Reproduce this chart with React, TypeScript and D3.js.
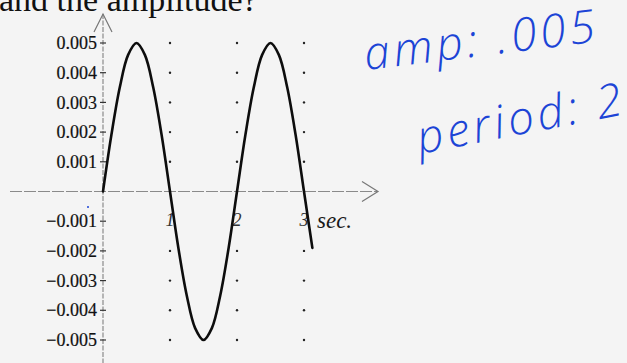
import React from "react";
import * as d3 from "d3";

// Displacement readings (m) against time (s), one every eighth of a second
const times = [0, 0.125, 0.25, 0.375, 0.5, 0.625, 0.75, 0.875, 1, 1.125, 1.25, 1.375, 1.5, 1.625, 1.75, 1.875, 2, 2.125, 2.25, 2.375, 2.5, 2.625, 2.75, 2.875, 3, 3.125];
const displacement = [0, 0.0019, 0.0035, 0.0046, 0.005, 0.0046, 0.0035, 0.0019, 0, -0.0019, -0.0035, -0.0046, -0.005, -0.0046, -0.0035, -0.0019, 0, 0.0019, 0.0035, 0.0046, 0.005, 0.0046, 0.0035, 0.0019, 0, -0.0019];

const yTicks = [0.005, 0.004, 0.003, 0.002, 0.001, -0.001, -0.002, -0.003, -0.004, -0.005];
const xTicks = [1, 2, 3];
const yTickLabels = ["0.005", "0.004", "0.003", "0.002", "0.001", "\u22120.001", "\u22120.002", "\u22120.003", "\u22120.004", "\u22120.005"];

const question = "and the amplitude?";
const noteAmp = "amp: .005";
const notePeriod = "period: 2";

const W = 627;
const H = 363;

export default function App() {
  const x = d3.scaleLinear().domain([0, 3]).range([103, 304]);
  const y = d3.scaleLinear().domain([-0.005, 0.005]).range([340, 43]);

  const pts: [number, number][] = times.map((t, i) => [t, displacement[i]]);
  const line = d3
    .line<[number, number]>()
    .x((d) => x(d[0]))
    .y((d) => y(d[1]))
    .curve(d3.curveCatmullRom.alpha(0.5));

  const x0 = x(0);
  const y0 = y(0);
  const serif = "'Liberation Serif', 'Times New Roman', serif";
  const hand = "'Open Sans', 'DejaVu Sans', sans-serif";
  const blue = "#1c44d6";

  return (
    <svg width={W} height={H} style={{ position: "absolute", left: 0, top: 0, display: "block" }}>
      <rect x={0} y={0} width={W} height={H} fill="#f4f4f4" />

      <text x={-1} y={11} fontFamily={serif} fontSize={34} fill="#111">
        {question}
      </text>

      {/* axes */}
      <line x1={x0} x2={x0} y1={14} y2={H} stroke="#8a8a8a" strokeWidth={1.2} strokeDasharray="5 1.5" />
      <polyline points={`${x0 - 9},32 ${x0},14 ${x0 + 9},32`} fill="none" stroke="#777" strokeWidth={1.2} />
      <line x1={10} x2={378} y1={y0} y2={y0} stroke="#8a8a8a" strokeWidth={1.2} strokeDasharray="12 2" />
      <polyline points={`362,${y0 - 10} 378,${y0} 362,${y0 + 10}`} fill="none" stroke="#777" strokeWidth={1.2} />

      {/* y ticks and labels */}
      {yTicks.map((v, i) => (
        <g key={v}>
          <line x1={x0 - 3} x2={x0 + 3} y1={y(v)} y2={y(v)} stroke="#333" strokeWidth={1.2} />
          <text
            x={x0 - 6}
            y={y(v)}
            dy="0.34em"
            textAnchor="end"
            fontFamily={serif}
            fontSize={18}
            fill="#111"
            stroke="#111"
            strokeWidth={0.2}
          >
            {yTickLabels[i]}
          </text>
        </g>
      ))}

      {/* dotted guides at whole seconds */}
      {xTicks.map((t) =>
        yTicks
          .filter((v) => v !== -0.001)
          .map((v) => <circle key={`${t}-${v}`} cx={x(t)} cy={y(v)} r={1.2} fill="#222" />)
      )}

      {xTicks.map((t) => (
        <text key={t} x={x(t)} y={y(-0.001) + 5} textAnchor="middle" fontFamily={serif} fontStyle="italic" fontSize={18} fill="#333">
          {t}
        </text>
      ))}
      <text x={317} y={228} fontFamily={serif} fontStyle="italic" fontSize={23} fill="#1a1a1a">
        sec.
      </text>

      {/* displacement curve */}
      <path d={line(pts) ?? ""} fill="none" stroke="#0d0d0d" strokeWidth={2.6} strokeLinecap="round" />

      <circle cx={88} cy={207} r={1} fill={blue} />

      {/* handwritten notes */}
      <text
        x={366}
        y={70}
        transform="rotate(-7 366 70)"
        fontFamily={hand}
        fontStyle="italic"
        fontWeight={300}
        fontSize={46}
        fill={blue}
        textLength={232}
        lengthAdjust="spacing"
      >
        {noteAmp}
      </text>
      <text
        x={420}
        y={154}
        transform="rotate(-11 420 154)"
        fontFamily={hand}
        fontStyle="italic"
        fontWeight={300}
        fontSize={46}
        fill={blue}
        textLength={208}
        lengthAdjust="spacing"
      >
        {notePeriod}
      </text>
    </svg>
  );
}
